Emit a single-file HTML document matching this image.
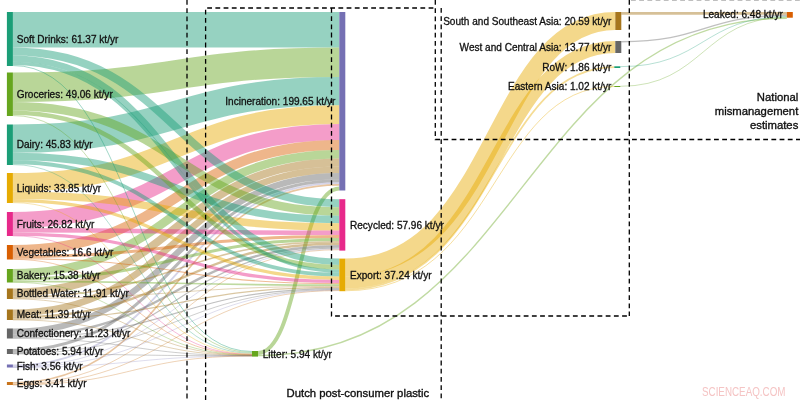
<!DOCTYPE html>
<html lang="en"><head><meta charset="utf-8"><title>Sankey</title>
<style>
html,body{margin:0;padding:0;background:#fff;}
body{width:800px;height:400px;overflow:hidden;}
svg{display:block;font-family:"Liberation Sans",sans-serif;}
.lab text{font-size:10.05px;fill:#111;stroke:#111;stroke-width:0.3px;dominant-baseline:central;}
.ann text{font-size:11.3px;fill:#111;stroke:#111;stroke-width:0.35px;}
.wm{font-size:12px;fill:#f5c4c4;}
</style></head><body>
<svg width="800" height="400" viewBox="0 0 800 400">
<g fill="none" stroke-opacity="0.46">
<path d="M12.9,29.75C176.1,29.75 176.1,29.75 339.3,29.75" stroke="#1b9e77" stroke-width="35.50"/>
<path d="M12.9,87.25C176.1,87.25 176.1,62.25 339.3,62.25" stroke="#66a61e" stroke-width="29.50"/>
<path d="M12.9,138.65C176.1,138.65 176.1,91.15 339.3,91.15" stroke="#1b9e77" stroke-width="28.30"/>
<path d="M12.9,182.30C176.1,182.30 176.1,114.60 339.3,114.60" stroke="#e6ab02" stroke-width="18.60"/>
<path d="M12.9,220.00C176.1,220.00 176.1,131.90 339.3,131.90" stroke="#e7298a" stroke-width="16.00"/>
<path d="M12.9,250.00C176.1,250.00 176.1,144.90 339.3,144.90" stroke="#d95f02" stroke-width="10.00"/>
<path d="M12.9,273.25C176.1,273.25 176.1,154.15 339.3,154.15" stroke="#66a61e" stroke-width="8.50"/>
<path d="M12.9,292.50C176.1,292.50 176.1,162.40 339.3,162.40" stroke="#a6761d" stroke-width="8.00"/>
<path d="M12.9,312.85C176.1,312.85 176.1,169.75 339.3,169.75" stroke="#a6761d" stroke-width="6.70"/>
<path d="M12.9,331.60C176.1,331.60 176.1,176.20 339.3,176.20" stroke="#666666" stroke-width="6.20"/>
<path d="M12.9,350.50C176.1,350.50 176.1,180.80 339.3,180.80" stroke="#666666" stroke-width="3.00"/>
<path d="M12.9,365.40C176.1,365.40 176.1,183.20 339.3,183.20" stroke="#7570b3" stroke-width="1.80" stroke-opacity="0.3"/>
<path d="M12.9,382.80C176.1,382.80 176.1,184.90 339.3,184.90" stroke="#c8741c" stroke-width="1.60" stroke-opacity="0.42"/>
<path d="M258.0,352.95C298.6,352.95 298.6,188.55 339.3,188.55" stroke="#66a61e" stroke-width="3.90"/>
<path d="M12.9,51.50C176.1,51.50 176.1,203.20 339.3,203.20" stroke="#1b9e77" stroke-width="8.00"/>
<path d="M12.9,106.25C176.1,106.25 176.1,211.45 339.3,211.45" stroke="#66a61e" stroke-width="8.50"/>
<path d="M12.9,156.55C176.1,156.55 176.1,219.45 339.3,219.45" stroke="#1b9e77" stroke-width="7.50"/>
<path d="M12.9,195.30C176.1,195.30 176.1,226.90 339.3,226.90" stroke="#e6ab02" stroke-width="7.40"/>
<path d="M12.9,230.25C176.1,230.25 176.1,232.85 339.3,232.85" stroke="#e7298a" stroke-width="4.50"/>
<path d="M12.9,256.50C176.1,256.50 176.1,236.60 339.3,236.60" stroke="#d95f02" stroke-width="3.00"/>
<path d="M12.9,279.00C176.1,279.00 176.1,239.60 339.3,239.60" stroke="#66a61e" stroke-width="3.00"/>
<path d="M12.9,297.25C176.1,297.25 176.1,241.85 339.3,241.85" stroke="#a6761d" stroke-width="1.50" stroke-opacity="0.42"/>
<path d="M12.9,317.40C176.1,317.40 176.1,243.80 339.3,243.80" stroke="#a6761d" stroke-width="2.40"/>
<path d="M12.9,335.90C176.1,335.90 176.1,246.20 339.3,246.20" stroke="#666666" stroke-width="2.40"/>
<path d="M12.9,352.60C176.1,352.60 176.1,248.00 339.3,248.00" stroke="#666666" stroke-width="1.20" stroke-opacity="0.41"/>
<path d="M12.9,366.65C176.1,366.65 176.1,248.95 339.3,248.95" stroke="#7570b3" stroke-width="0.80" stroke-opacity="0.3"/>
<path d="M12.9,384.00C176.1,384.00 176.1,249.70 339.3,249.70" stroke="#c8741c" stroke-width="0.80" stroke-opacity="0.40"/>
<path d="M12.9,58.65C176.1,58.65 176.1,261.75 339.3,261.75" stroke="#1b9e77" stroke-width="6.30"/>
<path d="M12.9,112.80C176.1,112.80 176.1,267.20 339.3,267.20" stroke="#66a61e" stroke-width="4.60"/>
<path d="M12.9,162.25C176.1,162.25 176.1,274.65 339.3,274.65" stroke="#1b9e77" stroke-width="3.90"/>
<path d="M12.9,200.65C176.1,200.65 176.1,278.25 339.3,278.25" stroke="#e6ab02" stroke-width="3.30"/>
<path d="M12.9,234.10C176.1,234.10 176.1,281.50 339.3,281.50" stroke="#e7298a" stroke-width="3.20"/>
<path d="M12.9,258.60C176.1,258.60 176.1,283.70 339.3,283.70" stroke="#d95f02" stroke-width="1.20" stroke-opacity="0.41"/>
<path d="M12.9,281.35C176.1,281.35 176.1,285.15 339.3,285.15" stroke="#66a61e" stroke-width="1.70" stroke-opacity="0.42"/>
<path d="M12.9,298.40C176.1,298.40 176.1,286.40 339.3,286.40" stroke="#a6761d" stroke-width="0.80" stroke-opacity="0.40"/>
<path d="M12.9,319.20C176.1,319.20 176.1,287.40 339.3,287.40" stroke="#a6761d" stroke-width="1.20" stroke-opacity="0.41"/>
<path d="M12.9,337.70C176.1,337.70 176.1,288.60 339.3,288.60" stroke="#666666" stroke-width="1.20" stroke-opacity="0.41"/>
<path d="M12.9,353.55C176.1,353.55 176.1,289.55 339.3,289.55" stroke="#666666" stroke-width="0.80" stroke-opacity="0.40"/>
<path d="M12.9,367.20C176.1,367.20 176.1,290.10 339.3,290.10" stroke="#7570b3" stroke-width="0.80" stroke-opacity="0.3"/>
<path d="M12.9,384.65C176.1,384.65 176.1,290.55 339.3,290.55" stroke="#c8741c" stroke-width="0.80" stroke-opacity="0.40"/>
<path d="M12.9,63.40C176.1,63.40 176.1,271.10 339.3,271.10" stroke="#1b9e77" stroke-width="3.20"/>
<path d="M12.9,65.50C132.4,65.50 132.4,351.50 252.0,351.50" stroke="#1b9e77" stroke-width="1.00" stroke-opacity="0.41"/>
<path d="M12.9,115.55C132.4,115.55 132.4,352.45 252.0,352.45" stroke="#66a61e" stroke-width="0.90" stroke-opacity="0.40"/>
<path d="M12.9,164.60C132.4,164.60 132.4,353.30 252.0,353.30" stroke="#1b9e77" stroke-width="0.80" stroke-opacity="0.40"/>
<path d="M12.9,202.60C132.4,202.60 132.4,354.00 252.0,354.00" stroke="#e6ab02" stroke-width="0.80" stroke-opacity="0.40"/>
<path d="M12.9,235.85C132.4,235.85 132.4,354.45 252.0,354.45" stroke="#e7298a" stroke-width="0.80" stroke-opacity="0.40"/>
<path d="M12.9,259.35C132.4,259.35 132.4,354.75 252.0,354.75" stroke="#d95f02" stroke-width="0.80" stroke-opacity="0.40"/>
<path d="M12.9,282.35C132.4,282.35 132.4,355.05 252.0,355.05" stroke="#66a61e" stroke-width="0.80" stroke-opacity="0.40"/>
<path d="M12.9,298.90C132.4,298.90 132.4,355.30 252.0,355.30" stroke="#a6761d" stroke-width="0.80" stroke-opacity="0.40"/>
<path d="M12.9,319.90C132.4,319.90 132.4,355.50 252.0,355.50" stroke="#a6761d" stroke-width="0.80" stroke-opacity="0.40"/>
<path d="M12.9,338.40C132.4,338.40 132.4,355.70 252.0,355.70" stroke="#666666" stroke-width="0.80" stroke-opacity="0.40"/>
<path d="M12.9,353.95C132.4,353.95 132.4,355.85 252.0,355.85" stroke="#666666" stroke-width="0.80" stroke-opacity="0.40"/>
<path d="M12.9,367.45C132.4,367.45 132.4,355.95 252.0,355.95" stroke="#7570b3" stroke-width="0.80" stroke-opacity="0.3"/>
<path d="M12.9,384.95C132.4,384.95 132.4,356.05 252.0,356.05" stroke="#c8741c" stroke-width="0.80" stroke-opacity="0.40"/>
<path d="M258.0,355.60C522.4,355.60 522.4,18.20 786.8,18.20" stroke="#66a61e" stroke-width="1.40" stroke-opacity="0.41"/>
<path d="M345.3,267.60C499.2,267.60 491.1,21.00 615.3,21.00" stroke="#e6ab02" stroke-width="18.00"/>
<path d="M345.3,282.60C499.2,282.60 491.1,47.00 615.3,47.00" stroke="#e6ab02" stroke-width="12.00"/>
<path d="M345.3,289.45C498.6,289.45 490.6,67.15 614.3,67.15" stroke="#e6ab02" stroke-width="1.70" stroke-opacity="0.42"/>
<path d="M345.3,290.78C498.6,290.78 490.6,86.47 614.3,86.47" stroke="#e6ab02" stroke-width="0.95" stroke-opacity="0.40"/>
<path d="M621.3,13.40C704.0,13.40 704.0,13.40 786.8,13.40" stroke="#a6761d" stroke-width="2.80"/>
<path d="M621.3,41.70C704.0,41.70 704.0,15.50 786.8,15.50" stroke="#666666" stroke-width="1.40" stroke-opacity="0.41"/>
<path d="M620.3,66.65C703.5,66.65 703.5,16.55 786.8,16.55" stroke="#1b9e77" stroke-width="0.80" stroke-opacity="0.40"/>
<path d="M620.3,86.30C703.5,86.30 703.5,17.20 786.8,17.20" stroke="#66a61e" stroke-width="0.80" stroke-opacity="0.40"/>
</g>
<g>
<rect x="6.9" y="12.0" width="6" height="54.0" fill="#1b9e77"/>
<rect x="6.9" y="72.5" width="6" height="43.5" fill="#66a61e"/>
<rect x="6.9" y="124.5" width="6" height="40.5" fill="#1b9e77"/>
<rect x="6.9" y="173.0" width="6" height="30.0" fill="#e6ab02"/>
<rect x="6.9" y="212.0" width="6" height="24.0" fill="#e7298a"/>
<rect x="6.9" y="245.0" width="6" height="14.5" fill="#d95f02"/>
<rect x="6.9" y="269.0" width="6" height="13.5" fill="#66a61e"/>
<rect x="6.9" y="288.5" width="6" height="10.5" fill="#a6761d"/>
<rect x="6.9" y="309.5" width="6" height="10.5" fill="#a6761d"/>
<rect x="6.9" y="328.5" width="6" height="10.0" fill="#666666"/>
<rect x="6.9" y="349.0" width="6" height="5.0" fill="#666666"/>
<rect x="6.9" y="364.5" width="6" height="3.0" fill="#7570b3"/>
<rect x="6.9" y="382.0" width="6" height="3.0" fill="#c8741c"/>
<rect x="339.3" y="12.0" width="6" height="178.5" fill="#7570b3"/>
<rect x="339.3" y="199.2" width="6" height="51.4" fill="#e7298a"/>
<rect x="339.3" y="258.6" width="6" height="32.6" fill="#e6ab02"/>
<rect x="252.0" y="351.0" width="6" height="5.6" fill="#66a61e"/>
<rect x="615.3" y="12.0" width="6" height="18.0" fill="#a6761d"/>
<rect x="615.3" y="41.0" width="6" height="12.0" fill="#666666"/>
<rect x="614.3" y="66.3" width="6" height="1.7" fill="#1b9e77"/>
<rect x="614.3" y="86.0" width="6" height="1.0" fill="#66a61e"/>
<rect x="786.8" y="12.0" width="6" height="5.7" fill="#d95f02"/>
</g>
<g fill="none" stroke="#000" stroke-width="1.3" stroke-dasharray="4.8 3.4">
<path d="M187,0V400"/>
<path d="M205.6,400V8H435.3"/>
<path d="M331.5,8V316H629.3"/>
<path d="M435.3,0V139.5H800"/>
<path d="M441.2,8V400"/>
<path d="M629.3,0V316"/>
<path d="M631,-0.35H800"/>
</g>
<g class="lab">
<text x="16.7" y="39.0">Soft Drinks: 61.37 kt/yr</text>
<text x="16.7" y="94.2">Groceries: 49.06 kt/yr</text>
<text x="16.7" y="144.8">Dairy: 45.83 kt/yr</text>
<text x="16.7" y="188.0">Liquids: 33.85 kt/yr</text>
<text x="16.7" y="224.0">Fruits: 26.82 kt/yr</text>
<text x="16.7" y="252.2">Vegetables: 16.6 kt/yr</text>
<text x="16.7" y="275.8">Bakery: 15.38 kt/yr</text>
<text x="16.7" y="293.8">Bottled Water: 11.91 kt/yr</text>
<text x="16.7" y="314.8">Meat: 11.39 kt/yr</text>
<text x="16.7" y="333.5">Confectionery: 11.23 kt/yr</text>
<text x="16.7" y="351.5">Potatoes: 5.94 kt/yr</text>
<text x="16.7" y="366.0">Fish: 3.56 kt/yr</text>
<text x="16.7" y="383.5">Eggs: 3.41 kt/yr</text>
<text x="335.3" y="101.2" text-anchor="end">Incineration: 199.65 kt/yr</text>
<text x="350.0" y="225.5">Recycled: 57.96 kt/yr</text>
<text x="350.0" y="275.5">Export: 37.24 kt/yr</text>
<text x="262.7" y="354.4">Litter: 5.94 kt/yr</text>
<text x="611.3" y="21.0" text-anchor="end">South and Southeast Asia: 20.59 kt/yr</text>
<text x="611.3" y="47.0" text-anchor="end">West and Central Asia: 13.77 kt/yr</text>
<text x="611.3" y="67.2" text-anchor="end">RoW: 1.86 kt/yr</text>
<text x="611.3" y="86.5" text-anchor="end">Eastern Asia: 1.02 kt/yr</text>
<text x="782.8" y="14.8" text-anchor="end">Leaked: 6.48 kt/yr</text>
</g>
<g class="ann">
<text x="286.6" y="397.2">Dutch post-consumer plastic</text>
<text x="798.3" y="100.7" text-anchor="end">National</text>
<text x="798.3" y="114.7" text-anchor="end">mismanagement</text>
<text x="798.3" y="128.7" text-anchor="end">estimates</text>
</g>
<text x="702" y="395.5" class="wm" textLength="83.5" lengthAdjust="spacingAndGlyphs">SCIENCEAQ.COM</text>
</svg>
</body></html>
